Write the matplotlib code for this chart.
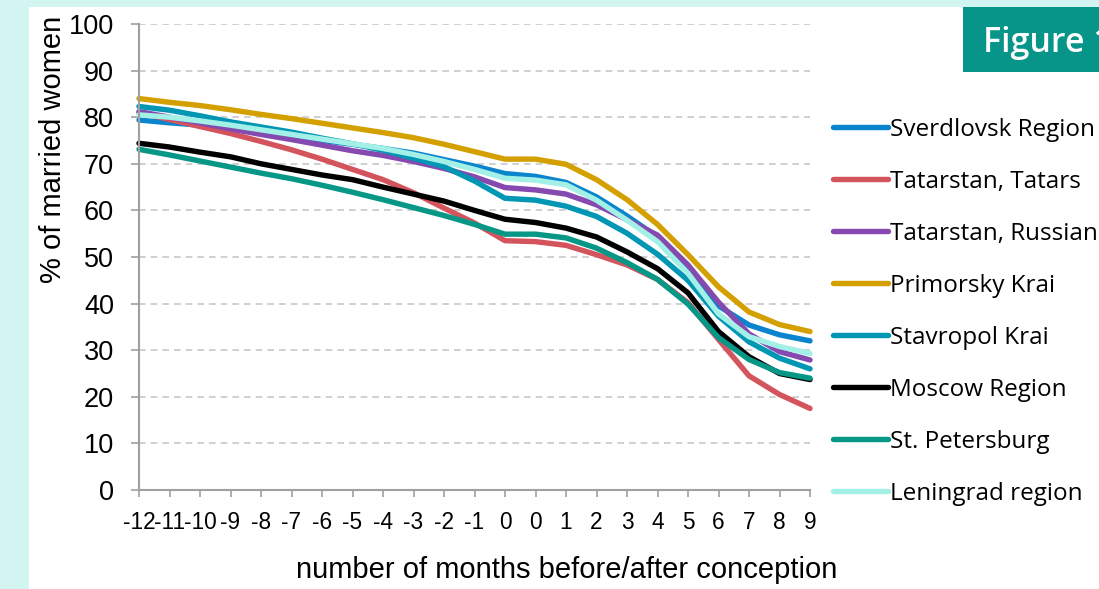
import matplotlib
matplotlib.use('Agg')
from matplotlib import pyplot as plt
from matplotlib.patches import Rectangle

# Months before/after conception (the source repeats "0")
months = ['-12', '-11', '-10', '-9', '-8', '-7', '-6', '-5', '-4', '-3', '-2', '-1',
          '0', '0', '1', '2', '3', '4', '5', '6', '7', '8', '9']

sverdlovsk = [79.4, 78.8, 78.3, 77.5, 76.6, 75.8, 75.0, 74.2, 73.3, 72.3, 70.9, 69.5,
              67.9, 67.3, 66.0, 62.9, 58.8, 54.3, 47.4, 39.5, 35.4, 33.3, 32.0]
tatars = [81.0, 79.5, 78.0, 76.5, 74.8, 73.0, 71.0, 68.8, 66.6, 63.8, 60.5, 57.3,
          53.5, 53.3, 52.5, 50.5, 48.3, 45.2, 40.2, 32.3, 24.5, 20.5, 17.5]
russians = [81.2, 80.0, 78.8, 77.5, 76.3, 75.2, 74.0, 72.8, 71.8, 70.5, 69.0, 67.2,
            64.9, 64.4, 63.5, 61.2, 58.0, 54.7, 48.3, 40.3, 33.5, 29.7, 27.9]
primorsky = [84.0, 83.2, 82.5, 81.6, 80.6, 79.7, 78.7, 77.7, 76.7, 75.6, 74.2, 72.6,
             71.0, 71.0, 69.9, 66.6, 62.3, 57.0, 50.5, 43.6, 38.2, 35.5, 34.0]
stavropol = [82.3, 81.5, 80.3, 79.0, 77.9, 76.8, 75.5, 74.3, 72.9, 71.2, 69.4, 66.3,
             62.6, 62.2, 60.9, 58.7, 55.1, 50.6, 45.0, 37.3, 31.8, 28.3, 26.0]
moscow = [74.4, 73.6, 72.5, 71.5, 70.0, 68.8, 67.6, 66.6, 65.0, 63.5, 62.0, 60.0,
          58.1, 57.4, 56.2, 54.3, 51.1, 47.5, 42.3, 34.0, 28.6, 25.0, 23.7]
petersburg = [73.1, 71.9, 70.6, 69.3, 68.0, 66.8, 65.4, 63.9, 62.3, 60.6, 58.9, 57.0,
              54.9, 54.9, 54.1, 51.9, 48.8, 45.2, 39.9, 32.7, 28.0, 25.2, 24.0]
leningrad = [80.5, 80.0, 79.2, 78.3, 77.3, 76.3, 75.3, 74.3, 73.3, 72.0, 70.5, 68.8,
             66.9, 66.5, 65.5, 62.2, 57.9, 53.3, 46.5, 37.8, 32.9, 30.8, 29.3]

series = [
    ('Sverdlovsk Region', sverdlovsk, '#0a84cc'),
    ('Tatarstan, Tatars', tatars, '#d4545e'),
    ('Tatarstan, Russians', russians, '#8549b0'),
    ('Primorsky Krai', primorsky, '#d4a000'),
    ('Stavropol Krai', stavropol, '#0096b4'),
    ('Moscow Region', moscow, '#000000'),
    ('St. Petersburg', petersburg, '#079787'),
    ('Leningrad region', leningrad, '#a2f0e6'),
]

plt.rcParams['font.family'] = ['Liberation Sans', 'DejaVu Sans']

fig = plt.figure(figsize=(10.99, 5.89), dpi=100, facecolor='#d2f5f2')
# white panel behind everything
fig.patches.append(Rectangle((29 / 1099, 0), 1, 1 - 7 / 589, transform=fig.transFigure,
                             facecolor='white', edgecolor='none', zorder=-5))
# badge
fig.patches.append(Rectangle((963 / 1099, 1 - 72 / 589), 1, 65 / 589, transform=fig.transFigure,
                             facecolor='#07958a', edgecolor='none', zorder=1))
fig.text(983 / 1099, 1 - 43 / 589, 'Figure 1', color='white', fontsize=24.5, fontweight='semibold',
         family='Open Sans', va='center', ha='left', zorder=2)

ax = fig.add_axes([139 / 1099, 1 - 490 / 589, 671 / 1099, 466 / 589])
ax.set_facecolor('none')

x = list(range(len(months)))
for name, vals, col in series:
    ax.plot(x, vals, color=col, lw=3.9, label=name, solid_capstyle='round', solid_joinstyle='round',
            clip_on=False)

ax.set_xlim(0, len(months) - 1)
ax.set_ylim(0, 100)
ax.set_yticks(range(0, 101, 10))
ax.set_xticks(x)
ax.set_xticklabels(months, fontsize=16.3)
ax.tick_params(axis='y', labelsize=19.5, length=5.5, color='#a0a0a0', width=1.2, pad=12.5)
ax.tick_params(axis='x', length=5, color='#a0a0a0', width=1.2, pad=10)
ax.grid(axis='y', color='#c8c8c8', linestyle=(0, (4, 3)), lw=1.2)
ax.set_axisbelow(True)
for s in ['top', 'right']:
    ax.spines[s].set_visible(False)
for s in ['left', 'bottom']:
    ax.spines[s].set_color('#a0a0a0')
    ax.spines[s].set_linewidth(1.5)

ax.set_ylabel('% of married women', fontsize=21, va='center')
ax.yaxis.set_label_coords(-0.128, 0.731)
ax.set_xlabel('number of months before/after conception', fontsize=21, va='center')
ax.xaxis.set_label_coords(0.638, -0.172)

leg = fig.legend(loc='upper left', bbox_to_anchor=(833 / 1099, 1 - 118 / 589), frameon=False,
                 prop={'family': 'Open Sans', 'size': 17.5}, handlelength=2.25,
                 handletextpad=0.08, labelspacing=1.15, borderpad=0, borderaxespad=0)
for h in leg.get_lines():
    h.set_linewidth(3.9)

fig.savefig('out.png', dpi=100, facecolor=fig.get_facecolor())
